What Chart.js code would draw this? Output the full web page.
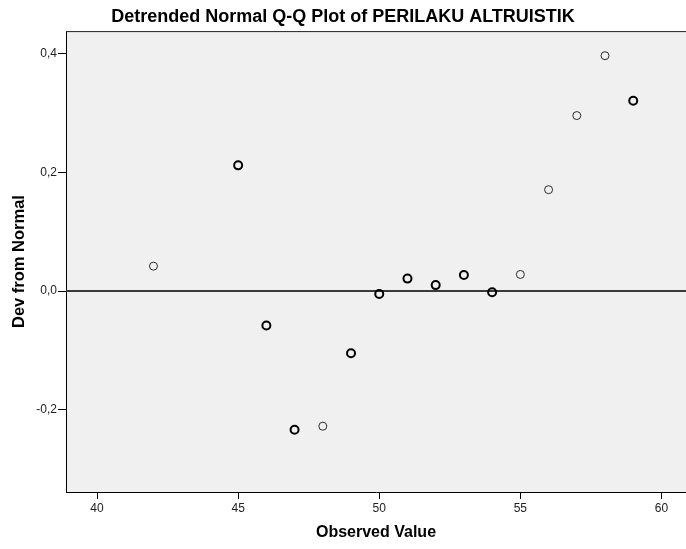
<!DOCTYPE html>
<html>
<head>
<meta charset="utf-8">
<script src="https://cdn.jsdelivr.net/npm/chart.js@4"></script>
<style>
  body { margin: 0; background: #fff; }
</style>
</head>
<body>
<canvas id="qqChart" width="686" height="549"></canvas>
<script>
// observed values and their deviation from normal
const observed = [42, 45, 46, 47, 48, 49, 50, 51, 52, 53, 54, 55, 56, 57, 58, 59];
const devNormal = [0.042, 0.212, -0.058, -0.234, -0.228, -0.105, -0.005, 0.021, 0.010, 0.027, -0.002, 0.028, 0.171, 0.296, 0.397, 0.321];
// cases sharing the same value (drawn as heavier circles)
const freq = [1, 2, 2, 2, 1, 2, 2, 2, 2, 2, 2, 1, 1, 1, 1, 2];
const xTicks = [40, 45, 50, 55, 60];
const yTicks = [-0.2, 0.0, 0.2, 0.4];

const points = observed.map((v, i) => ({x: v, y: devNormal[i]}));

// grey plot background, top border and zero line
const plotDecor = {
  id: 'plotDecor',
  beforeDraw(chart) {
    const {ctx, chartArea: a} = chart;
    ctx.save();
    ctx.fillStyle = '#f0f0f0';
    ctx.fillRect(a.left, a.top, a.right - a.left, a.bottom - a.top);
    ctx.restore();
  },
  beforeDatasetsDraw(chart) {
    const {ctx, chartArea: a, scales} = chart;
    const y0 = scales.y.getPixelForValue(0);
    ctx.save();
    ctx.strokeStyle = '#3a3a3a';
    ctx.lineWidth = 2;
    ctx.beginPath();
    ctx.moveTo(a.left, y0);
    ctx.lineTo(a.right, y0);
    ctx.stroke();
    ctx.strokeStyle = '#222';
    ctx.lineWidth = 1;
    ctx.beginPath();
    ctx.moveTo(a.left, a.top + 0.5);
    ctx.lineTo(a.right, a.top + 0.5);
    ctx.stroke();
    ctx.restore();
  }
};

const tickFont = {family: 'Liberation Sans, Arial, sans-serif', size: 12};
const axisFont = {family: 'Liberation Sans, Arial, sans-serif', size: 16, weight: 'bold'};

new Chart(document.getElementById('qqChart'), {
  type: 'scatter',
  data: {
    datasets: [{
      data: points,
      pointStyle: 'circle',
      pointRadius: 4,
      pointBackgroundColor: 'rgba(0,0,0,0)',
      pointBorderColor: ctx => freq[ctx.dataIndex] > 1 ? '#000' : '#2a2a2a',
      pointBorderWidth: ctx => freq[ctx.dataIndex] > 1 ? 2 : 1
    }]
  },
  plugins: [plotDecor],
  options: {
    responsive: false,
    animation: false,
    events: [],
    layout: {padding: 0, autoPadding: false},
    plugins: {
      legend: {display: false},
      tooltip: {enabled: false},
      title: {
        display: true,
        text: 'Detrended Normal Q-Q Plot of PERILAKU ALTRUISTIK',
        color: '#000',
        font: {family: 'Liberation Sans, Arial, sans-serif', size: 18, weight: 'bold'},
        padding: {top: 6, bottom: 3.5}
      }
    },
    scales: {
      x: {
        type: 'linear',
        min: 38.9,
        max: 60.87,
        afterBuildTicks: s => { s.ticks = xTicks.map(v => ({value: v})); },
        afterFit: s => { s.height = 57; s.paddingLeft = 0; s.paddingRight = 0; },
        grid: {display: true, drawOnChartArea: false, drawTicks: true, tickLength: 7, color: '#000'},
        border: {display: true, color: '#000', width: 1},
        ticks: {color: '#222', font: tickFont, padding: 2, maxRotation: 0},
        title: {display: true, text: 'Observed Value', color: '#000', font: axisFont, padding: {top: 0, bottom: 7}}
      },
      y: {
        type: 'linear',
        min: -0.339,
        max: 0.4385,
        afterBuildTicks: s => { s.ticks = yTicks.map(v => ({value: v})); },
        afterFit: s => { s.width = 66; s.paddingTop = 0; s.paddingBottom = 0; },
        grid: {display: true, drawOnChartArea: false, drawTicks: true, tickLength: 8, color: '#000'},
        border: {display: true, color: '#000', width: 1},
        ticks: {color: '#222', font: tickFont, padding: 1, callback: v => v.toFixed(1).replace('.', ',')},
        title: {display: true, text: 'Dev from Normal', color: '#000', font: {family: 'Liberation Sans, Arial, sans-serif', size: 16.5, weight: 'bold'}, padding: {top: 10, bottom: 0}}
      }
    }
  }
});
</script>
</body>
</html>
